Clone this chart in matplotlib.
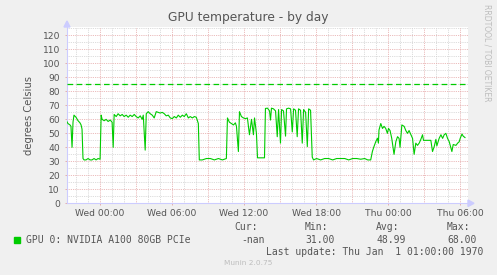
import matplotlib
matplotlib.use("Agg")
import matplotlib.pyplot as plt
import numpy as np
from matplotlib.patches import Polygon, Rectangle

# hours relative to Wed 00:00
hours = [-2.73, -2.63, -2.46, -2.38, -2.29, -2.21, -2.13, -1.96, -1.79, -1.63, -1.54, -1.46,
         -1.38, -1.29, -1.13, -0.96, -0.79, -0.63, -0.46, -0.29, -0.13, 0.04,
         0.13, 0.21, 0.38, 0.54, 0.71, 0.88, 1.04, 1.13, 1.21, 1.38, 1.54, 1.71, 1.88, 2.04,
         2.21, 2.38, 2.54, 2.71, 2.88, 3.04, 3.21, 3.38, 3.54, 3.63, 3.79, 3.88, 4.04, 4.21,
         4.38, 4.54, 4.71, 4.88, 5.04, 5.21, 5.38, 5.54, 5.71, 5.88, 6.04, 6.21, 6.38, 6.54,
         6.71, 6.88, 7.04, 7.21, 7.38, 7.54, 7.71, 7.88, 8.04, 8.21, 8.29,
         8.54, 8.88, 9.21, 9.54, 9.88, 10.21, 10.54,
         10.63, 10.79, 10.96, 11.13, 11.29, 11.38, 11.54, 11.63, 11.79, 11.96, 12.13, 12.29,
         12.46, 12.63, 12.79, 12.88, 13.04, 13.13, 13.71,
         13.79, 13.96, 14.13, 14.21, 14.29, 14.46, 14.63, 14.77, 14.88, 15.04, 15.13, 15.29,
         15.46, 15.54, 15.71, 15.88, 16.02, 16.13, 16.29, 16.43, 16.54, 16.71, 16.85, 16.96,
         17.13, 17.27, 17.38, 17.54, 17.68, 17.79,
         18.04, 18.38, 18.71, 19.04, 19.38, 19.71, 20.04, 20.38, 20.71, 21.04, 21.38, 21.71,
         22.04, 22.29, 22.54,
         22.68, 22.79, 22.96, 23.10, 23.18, 23.23, 23.38, 23.52, 23.65, 23.79, 23.93, 24.02,
         24.15, 24.29, 24.48, 24.63, 24.77, 24.90, 24.98, 25.13, 25.32, 25.46, 25.60, 25.73,
         25.88, 26.02, 26.15, 26.29, 26.43, 26.57, 26.71, 26.85, 26.93, 27.13, 27.38, 27.54,
         27.68, 27.82, 27.96, 28.04, 28.23, 28.38, 28.52, 28.65, 28.79, 28.93, 29.07, 29.29,
         29.40, 29.63, 29.77, 29.90, 29.98, 30.13, 30.23, 30.38]
temps = [58.5, 57, 56, 55, 40, 58, 63, 61.5, 59, 57.5, 56, 53,
         32, 31, 31, 32, 31, 31, 32, 31, 32, 31.5,
         63, 60, 59, 60, 58.5, 59.5, 58, 40, 63.5, 62, 64, 62.5, 63.5, 62,
         63, 61.5, 63, 62, 63.5, 62, 61, 62.5, 60, 63, 38, 64, 65.5, 64,
         63, 61, 65.5, 65, 64.5, 65, 64, 62.5, 63, 61, 60.5, 62, 61, 63,
         61.5, 63, 62, 64, 61, 62, 61, 62, 61.5, 57, 31,
         31, 32, 32, 31, 32, 31, 32,
         61, 58, 57, 56, 57.5, 55, 37, 65.5, 62, 61, 60.5, 61,
         49, 60, 49, 61, 50, 32.5, 32.5,
         67.8, 68, 66, 59.5, 68, 67.5, 66, 47.6, 67, 43, 67, 66,
         48, 67.5, 68, 67.5, 51, 67.5, 66.5, 47.6, 67.5, 66.5, 43, 67,
         65, 40.5, 67.5, 66.5, 33, 31,
         32, 31, 32, 32, 31, 32, 32, 32, 31, 32, 32, 31.5,
         32, 31, 31,
         37, 40, 44, 46.5, 43, 52.4, 57, 53.5, 55, 53.5, 50, 53.5,
         52, 46.4, 35, 44, 47.6, 46.4, 40, 56, 55, 52, 50, 52,
         49, 46.4, 35, 43, 41.4, 43, 45.7, 49, 45, 45, 45, 45,
         37, 40.5, 45.7, 41, 46.4, 49, 46.4, 49, 50, 46.4, 44, 37,
         42, 41.4, 43, 44, 46.4, 49.5, 48, 47]

warning = 85
x_ticks = [0, 6, 12, 18, 24, 30]
x_labels = ["Wed 00:00", "Wed 06:00", "Wed 12:00", "Wed 18:00", "Thu 00:00", "Thu 06:00"]
y_ticks = list(range(0, 121, 10))

series_name = "GPU 0: NVIDIA A100 80GB PCIe"
stats_head = ["Cur:", "Min:", "Avg:", "Max:"]
stats_vals = ["-nan", "31.00", "48.99", "68.00"]

W, H = 497, 275
fig = plt.figure(figsize=(W / 100, H / 100), dpi=100, facecolor="#f0f0f0")


def fx(x):
    return x / W


def fy(y):
    return 1 - y / H


ax = fig.add_axes([fx(67), fy(203.3), fx(468) - fx(67), fy(27) - fy(203.3)])
ax.set_facecolor("white")
ax.set_xlim(-2.71, 30.63)
ax.set_ylim(0, 126)

# grid like rrdtool: minor grey, major reddish
for h in np.arange(-2, 31, 1):
    if h % 3 != 0:
        ax.axvline(h, color="#d0d0d0", lw=0.6, ls=(0, (1, 1.2)), zorder=1)
for v in range(5, 126, 10):
    ax.axhline(v, color="#d0d0d0", lw=0.6, ls=(0, (1, 1.2)), zorder=1)
for h in range(0, 31, 3):
    ax.axvline(h, color="#e4a4a4", lw=0.6, ls=(0, (1, 1.2)), zorder=1)
for v in range(10, 121, 10):
    ax.axhline(v, color="#e4a4a4", lw=0.6, ls=(0, (1, 1.2)), zorder=1)

ax.plot([-2.71, hours[-1]], [warning, warning], color="#00cc00", lw=0.9,
        dashes=(4.5, 2.8), zorder=3)
ax.plot(hours, temps, color="#00cc00", lw=0.8, zorder=4)

ax.set_xticks(x_ticks)
ax.set_xticklabels(x_labels)
ax.set_yticks(y_ticks)
ax.tick_params(length=1.5, width=0.6, color="#e4a4a4", labelsize=6.6, labelcolor="#555555")
ax.tick_params(axis="y", pad=3.5)
ax.tick_params(axis="x", pad=2.5)
for s in ["top", "right"]:
    ax.spines[s].set_visible(False)
for s in ["left", "bottom"]:
    ax.spines[s].set_color("#ccccff")
    ax.spines[s].set_linewidth(0.8)

ax.set_ylabel("degrees Celsius", fontsize=7.2, color="#555555", labelpad=6)

# axis arrows
fig.patches.append(Polygon([[fx(64), fy(27)], [fx(70), fy(27)], [fx(67), fy(21)]],
                           closed=True, color="#ccccff", transform=fig.transFigure))
fig.patches.append(Polygon([[fx(468), fy(200)], [fx(468), fy(206.5)], [fx(474), fy(203.3)]],
                           closed=True, color="#ccccff", transform=fig.transFigure))

fig.text(fx(248), fy(18), "GPU temperature - by day", ha="center", va="center",
         fontsize=8.8, color="#555555")
fig.text(fx(487), fy(53), "RRDTOOL / TOBI OETIKER", rotation=270, ha="center", va="center",
         fontsize=5.5, color="#bdbdbd")

# legend
mono = "DejaVu Sans Mono"
fig.patches.append(Rectangle((fx(14), fy(243)), fx(6), fy(237) - fy(243), color="#00cc00",
                             transform=fig.transFigure))
fig.text(fx(26), fy(240), series_name, ha="left", va="center", fontsize=7, family=mono,
         color="#555555")
head_right = [258, 328, 399, 470]
val_right = [265, 335, 406, 477]
for hd, vl, hr, vr in zip(stats_head, stats_vals, head_right, val_right):
    fig.text(fx(hr), fy(227), hd, ha="right", va="center", fontsize=7, family=mono,
             color="#555555")
    fig.text(fx(vr), fy(240), vl, ha="right", va="center", fontsize=7, family=mono,
             color="#555555")
fig.text(fx(483), fy(252), "Last update: Thu Jan  1 01:00:00 1970", ha="right", va="center",
         fontsize=7, family=mono, color="#555555")
fig.text(fx(248), fy(263), "Munin 2.0.75", ha="center", va="center", fontsize=5.3,
         color="#bdbdbd")

fig.savefig("out.png", dpi=100, facecolor=fig.get_facecolor())
